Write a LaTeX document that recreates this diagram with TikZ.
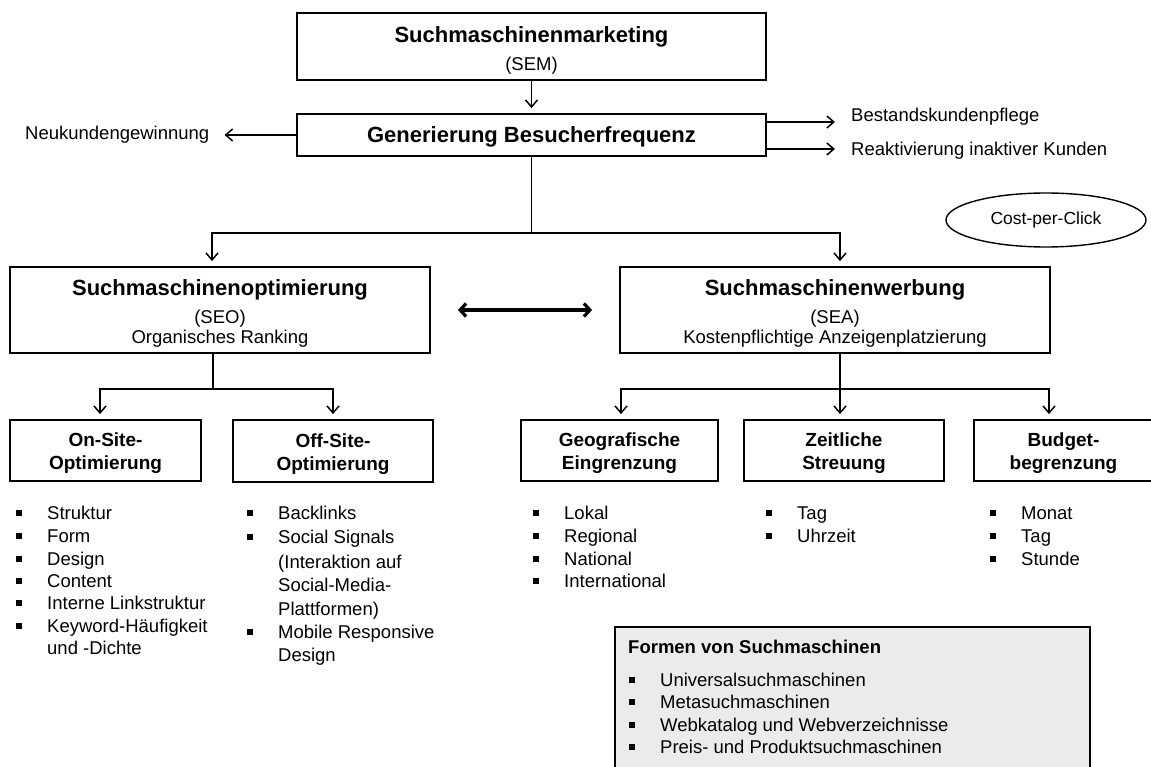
\documentclass[tikz,border=0pt]{standalone}
\usepackage{fontspec}
\setmainfont{Liberation Sans}
\usetikzlibrary{arrows.meta,shapes.geometric,calc}

% font sizes
\newcommand\regfnt{\fontsize{18.5}{20}\selectfont}
\newcommand\titlefnt{\fontsize{22}{26}\selectfont\bfseries}
\newcommand\subfnt{\fontsize{19}{23}\selectfont\bfseries}
% square list bullet, hung to the left of the text
\newcommand\lbul{\llap{\rule[3.8pt]{5.8pt}{5.8pt}\hspace{25.1pt}}}
% invisible strut that lowers the text block inside a box
\newcommand\topstrut[1]{\rule{0pt}{#1}}

\tikzset{
  box/.style={draw, line width=1.8pt, rectangle, inner sep=0pt, align=center, font=\regfnt},
  subbox/.style={box, font=\subfnt, minimum height=61pt},
  conn/.style={line width=1.5pt},
  arr/.style={conn, -{Straight Barb[length=7pt,width=12pt]}, shorten >=5pt},
  dbl/.style={line width=3.2pt, {Straight Barb[length=6pt,width=13pt]}-{Straight Barb[length=6pt,width=13pt]}},
  lbl/.style={inner sep=0pt, font=\regfnt},
  item/.style={inner sep=0pt, anchor=base west, font=\regfnt},
}

% list line: name, x, vertical centre, text
\newcommand\bitem[4]{\node[item] (#1) at (#2,{#3+6.5}) {\lbul#4};}
\newcommand\citem[4]{\node[item] (#1) at (#2,{#3+6.5}) {#4};}

\begin{document}
\begin{tikzpicture}[x=1pt,y=-1pt]
\useasboundingbox (0,0) rectangle (1151,767);
\clip (0,0) rectangle (1151,767);

% top level
\node[box, minimum width=469pt, minimum height=67pt] (sem) at (531.5,46.5)
  {{\titlefnt\topstrut{24pt}Suchmaschinenmarketing}\\[8.6pt](SEM)};
\node[box, minimum width=469pt, minimum height=42pt, font=\titlefnt] (gen) at (531.5,135)
  {\topstrut{20.5pt}Generierung Besucherfrequenz};

\node[lbl, anchor=west] (neu) at (25,135) {Neukundengewinnung};
\node[lbl, anchor=west] (bes) at (851,117) {Bestandskundenpflege};
\node[lbl, anchor=west] (rea) at (851,151) {Reaktivierung inaktiver Kunden};

\node[draw, ellipse, line width=1.4pt, inner sep=0pt, minimum width=200pt, minimum height=54pt,
      font=\fontsize{17.5}{20}\selectfont] (cpc) at (1046,220) {Cost-per-Click};

\draw[arr] (sem.south) -- (gen.north);
\draw[arr, shorten >=15pt] (gen.west) -- (neu.east);
\draw[arr, shorten >=16pt] ($(gen.east|-bes.west)+(0,5)$) -- ($(bes.west)+(0,5)$);
\draw[arr, shorten >=16pt] ($(gen.east|-rea.west)+(0,-2)$) -- ($(rea.west)+(0,-2)$);

% SEO / SEA
\node[box, minimum width=420pt, minimum height=86pt] (seo) at (220,310)
  {{\titlefnt\topstrut{23pt}Suchmaschinenoptimierung}\\[7.6pt](SEO)\\Organisches Ranking};
\node[box, minimum width=430pt, minimum height=86pt] (sea) at (835,310)
  {{\titlefnt\topstrut{23pt}Suchmaschinenwerbung}\\[7.6pt](SEA)\\Kostenpflichtige Anzeigenplatzierung};

\coordinate (j0) at (531.5,233);
\draw[conn] (gen.south) -- (j0);
\draw[arr] (j0) -| ($(seo.north)+(-8,0)$);
\draw[arr] (j0) -| ($(sea.north)+(5,0)$);
\draw[dbl] ($(seo.east)+(27,0)$) -- ($(sea.west)+(-27,0)$);

% second level
\node[subbox, minimum width=191pt] (on) at (105.5,450.5) {\topstrut{20pt}On-Site-\\Optimierung};
\node[subbox, minimum width=200pt, minimum height=62pt] (off) at (333,451) {\topstrut{20pt}Off-Site-\\Optimierung};
\node[subbox, minimum width=197pt] (geo) at (619.5,450.5) {\topstrut{20pt}Geografische\\Eingrenzung};
\node[subbox, minimum width=200pt] (zeit) at (844,450.5) {\topstrut{20pt}Zeitliche\\Streuung};
\node[subbox, minimum width=179pt] (bud) at (1063.5,450.5) {\topstrut{20pt}Budget-\\begrenzung};

\coordinate (j1) at (213,389);
\draw[conn] (seo.south -| j1) -- (j1);
\draw[arr] (j1) -| ($(on.north)+(-5.5,0)$);
\draw[arr] (j1) -| (off.north);

\coordinate (j2) at (840,389);
\draw[conn] (sea.south -| j2) -- (j2);
\draw[arr] (j2) -| ($(geo.north)+(1.5,0)$);
\draw[arr] (j2) -- (j2 |- zeit.north);
\draw[arr] (j2) -| ($(bud.north)+(-14.5,0)$);

% lists
\bitem{on1}{47}{513}{Struktur}
\bitem{on2}{47}{536}{Form}
\bitem{on3}{47}{559}{Design}
\bitem{on4}{47}{581}{Content}
\bitem{on5}{47}{603}{Interne Linkstruktur}
\bitem{on6}{47}{626}{Keyword-Häufigkeit}
\citem{on7}{47}{648}{und -Dichte}

\bitem{off1}{278}{513}{Backlinks}
\bitem{off2}{278}{537}{Social Signals}
\citem{off3}{278}{562}{(Interaktion auf}
\citem{off4}{278}{585}{Social-Media-}
\citem{off5}{278}{609}{Plattformen)}
\bitem{off6}{278}{632}{Mobile Responsive}
\citem{off7}{278}{655}{Design}

\bitem{geo1}{564}{513}{Lokal}
\bitem{geo2}{564}{536}{Regional}
\bitem{geo3}{564}{559}{National}
\bitem{geo4}{564}{581}{International}

\bitem{zeit1}{797}{513}{Tag}
\bitem{zeit2}{797}{536}{Uhrzeit}

\bitem{bud1}{1021}{513}{Monat}
\bitem{bud2}{1021}{536}{Tag}
\bitem{bud3}{1021}{559}{Stunde}

% kinds of search engines
\node[draw, line width=1.8pt, fill=black!8, inner sep=0pt, minimum width=475pt, minimum height=163pt]
  (formen) at (852.5,708.5) {};
\node[inner sep=0pt, anchor=base west, font=\fontsize{18.5}{20}\selectfont\bfseries]
  (ftitle) at (628,{647+6.5}) {Formen von Suchmaschinen};
\bitem{f1}{660}{680}{Universalsuchmaschinen}
\bitem{f2}{660}{702}{Metasuchmaschinen}
\bitem{f3}{660}{725}{Webkatalog und Webverzeichnisse}
\bitem{f4}{660}{747}{Preis- und Produktsuchmaschinen}
\end{tikzpicture}
\end{document}
